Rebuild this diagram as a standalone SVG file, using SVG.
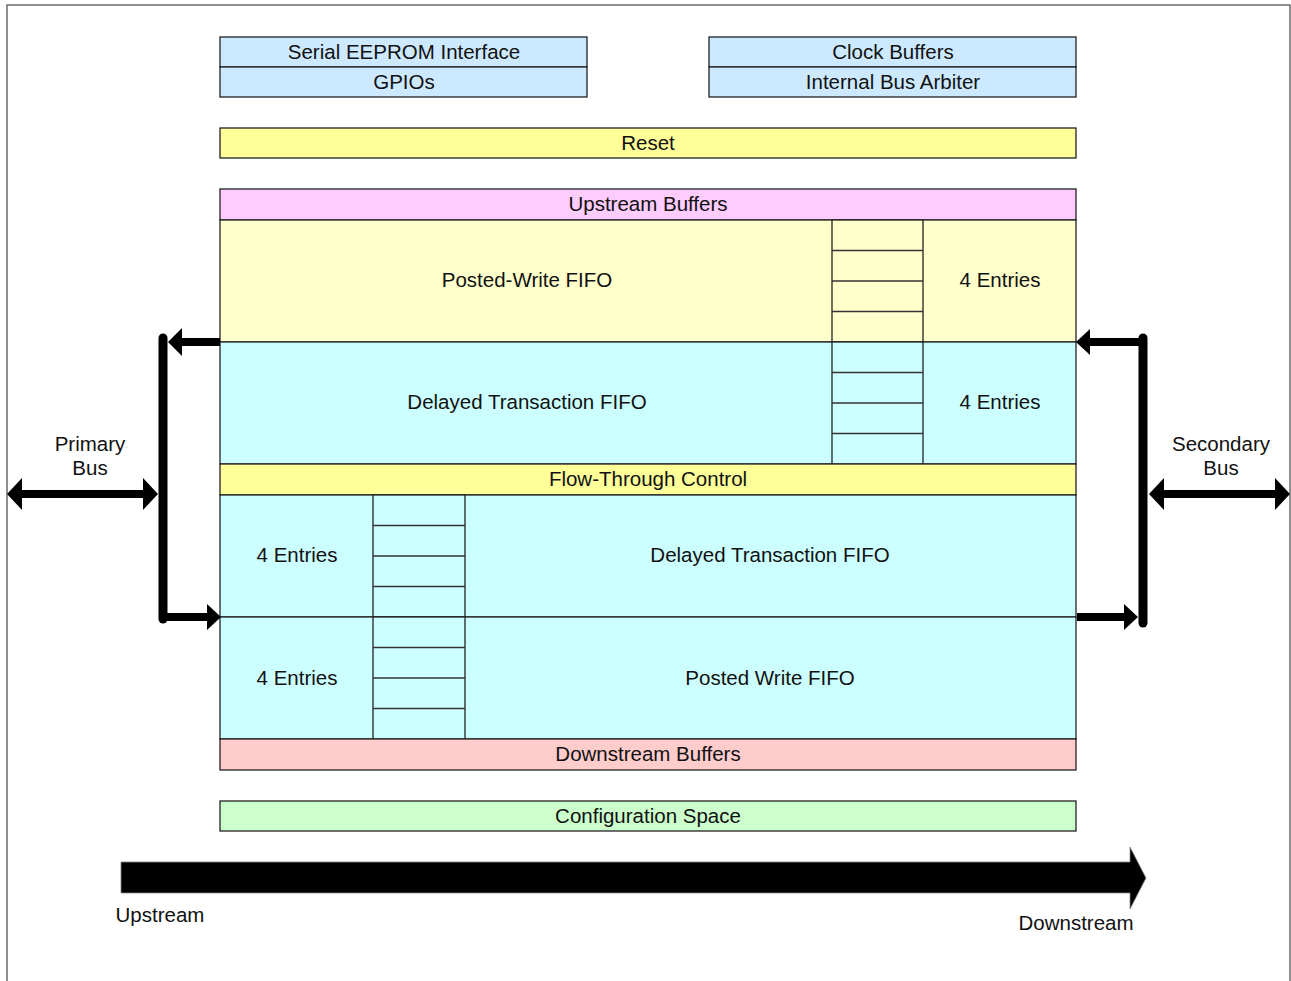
<svg xmlns="http://www.w3.org/2000/svg" width="1291" height="981" viewBox="0 0 1291 981">
  <style>
    text { font-family: "Liberation Sans", Arial, sans-serif; font-size: 20.5px; fill: #111; text-anchor: middle; dominant-baseline: central; }
    .box { stroke: #222; stroke-width: 1.3; }
    .row { stroke: #333; stroke-width: 1.3; fill: none; }
    .blue { fill: #cce9ff; }
    .yel { fill: #ffff99; }
    .pale { fill: #ffffcc; }
    .cyan { fill: #ccffff; }
    .pink { fill: #ffccff; }
    .red { fill: #ffcccc; }
    .green { fill: #ccffcc; }
    .bus { stroke: #000; stroke-width: 9; fill: none; stroke-linecap: round; }
    .shaft { stroke: #000; stroke-width: 8; fill: none; }
    .tip { fill: #000; }
  </style>

  <!-- outer frame -->
  <rect x="7" y="5" width="1283" height="990" fill="#fff" stroke="#555" stroke-width="1.3"/>

  <g id="eeprom-gpio">
    <rect class="box blue" x="220" y="37" width="367" height="30"/>
    <rect class="box blue" x="220" y="67" width="367" height="30"/>
    <text x="404" y="51">Serial EEPROM Interface</text>
    <text x="404" y="81">GPIOs</text>
  </g>

  <g id="clock-arbiter">
    <rect class="box blue" x="709" y="37" width="367" height="30"/>
    <rect class="box blue" x="709" y="67" width="367" height="30"/>
    <text x="893" y="51">Clock Buffers</text>
    <text x="893" y="81">Internal Bus Arbiter</text>
  </g>

  <g id="reset">
    <rect class="box yel" x="220" y="128" width="856" height="30"/>
    <text x="648" y="142">Reset</text>
  </g>

  <g id="upstream-buffers">
    <rect class="box pink" x="220" y="189" width="856" height="31"/>
    <text x="648" y="203">Upstream Buffers</text>
  </g>

  <g id="up-posted-write">
    <rect class="box pale" x="220" y="220" width="856" height="122"/>
    <rect class="box pale" x="832" y="220" width="91" height="122"/>
    <path class="row" d="M832,250.5 H923 M832,281 H923 M832,311.5 H923"/>
    <text x="527" y="279">Posted-Write FIFO</text>
    <text x="1000" y="279">4 Entries</text>
  </g>

  <g id="up-delayed">
    <rect class="box cyan" x="220" y="342" width="856" height="122"/>
    <rect class="box cyan" x="832" y="342" width="91" height="122"/>
    <path class="row" d="M832,372.5 H923 M832,403 H923 M832,433.5 H923"/>
    <text x="527" y="401">Delayed Transaction FIFO</text>
    <text x="1000" y="401">4 Entries</text>
  </g>

  <g id="flow-through">
    <rect class="box yel" x="220" y="464" width="856" height="31"/>
    <text x="648" y="478">Flow-Through Control</text>
  </g>

  <g id="down-delayed">
    <rect class="box cyan" x="220" y="495" width="856" height="122"/>
    <rect class="box cyan" x="373" y="495" width="92" height="122"/>
    <path class="row" d="M373,525.5 H465 M373,556 H465 M373,586.5 H465"/>
    <text x="297" y="554">4 Entries</text>
    <text x="770" y="554">Delayed Transaction FIFO</text>
  </g>

  <g id="down-posted-write">
    <rect class="box cyan" x="220" y="617" width="856" height="122"/>
    <rect class="box cyan" x="373" y="617" width="92" height="122"/>
    <path class="row" d="M373,647.5 H465 M373,678 H465 M373,708.5 H465"/>
    <text x="297" y="677">4 Entries</text>
    <text x="770" y="677">Posted Write FIFO</text>
  </g>

  <g id="downstream-buffers">
    <rect class="box red" x="220" y="739" width="856" height="31"/>
    <text x="648" y="753">Downstream Buffers</text>
  </g>

  <g id="config-space">
    <rect class="box green" x="220" y="801" width="856" height="30"/>
    <text x="648" y="815">Configuration Space</text>
  </g>

  <g id="primary-bus">
    <text x="90" y="443">Primary</text>
    <text x="90" y="467">Bus</text>
  </g>

  <g id="secondary-bus">
    <text x="1221" y="443">Secondary</text>
    <text x="1221" y="467">Bus</text>
  </g>

  <g id="connectors">
    <!-- primary side -->
    <line class="bus" x1="163" y1="338" x2="163" y2="619"/>
    <line class="shaft" x1="220" y1="342" x2="178" y2="342"/>
    <polygon class="tip" points="168,342 182,328 182,356"/>
    <line class="shaft" x1="163" y1="617" x2="210" y2="617"/>
    <polygon class="tip" points="221,617 207,604 207,630"/>
    <line class="shaft" x1="18" y1="494" x2="148" y2="494"/>
    <polygon class="tip" points="7,494 22,478 22,510"/>
    <polygon class="tip" points="158,494 143,478 143,510"/>
    <!-- secondary side -->
    <line class="bus" x1="1143" y1="338" x2="1143" y2="623"/>
    <line class="shaft" x1="1143" y1="342" x2="1086" y2="342"/>
    <polygon class="tip" points="1076,342 1090,329 1090,355"/>
    <line class="shaft" x1="1077" y1="617" x2="1128" y2="617"/>
    <polygon class="tip" points="1138,617 1124,604 1124,630"/>
    <line class="shaft" x1="1160" y1="494" x2="1280" y2="494"/>
    <polygon class="tip" points="1149,494 1164,478 1164,510"/>
    <polygon class="tip" points="1290,494 1275,478 1275,510"/>
    <!-- direction arrow -->
    <path d="M121,862 H1130 V847 L1146,878 L1130,909 V893 H121 Z" fill="#000" stroke="#888" stroke-width="0.8"/>
  </g>

  <g id="direction-labels">
    <text x="160" y="914">Upstream</text>
    <text x="1076" y="922">Downstream</text>
  </g>
</svg>
